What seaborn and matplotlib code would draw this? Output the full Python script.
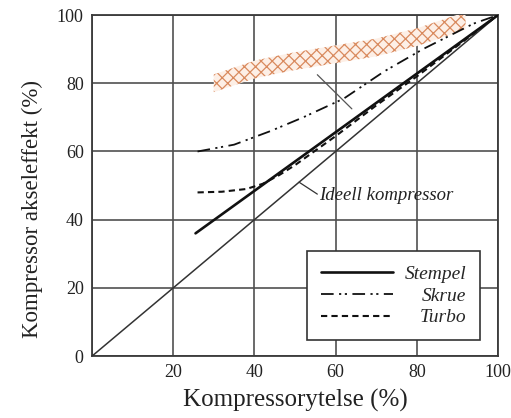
import numpy as np
import pandas as pd
import matplotlib
matplotlib.use("Agg")
import matplotlib.pyplot as plt
import seaborn as sns

# curve readings (x = Kompressorytelse %, y = akseleffekt %)
ideal_x = [0, 100]
ideal_y = [0, 100]

stempel_x = [25.5, 100]
stempel_y = [36, 100]

skrue_x = [26, 35, 44, 52, 62, 72, 81.5, 94, 100]
skrue_y = [60, 62, 66, 70, 75.5, 83.5, 90, 97.5, 100]

turbo_x = [26, 32, 38, 42, 46, 50, 60, 70, 80, 90, 100]
turbo_y = [48, 48.2, 49, 50.5, 53, 56, 64.5, 73.5, 82, 91, 100]

# hand-drawn orange band (centre line)
band_x = [30, 35, 40, 45, 50, 55, 60, 65, 70, 75, 80, 85, 90, 92]
band_y = [80, 82, 84, 85.3, 86.5, 87.5, 88.5, 89.5, 90.5, 92, 93.5, 95.5, 97.5, 98.5]
band_half = 2.6

ticks = [0, 20, 40, 60, 80, 100]

sns.set_theme(style="white")
plt.rcParams['font.family'] = ['Liberation Serif', 'DejaVu Serif']

fig = plt.figure(figsize=(5.11, 4.18), dpi=100)
fig.patch.set_facecolor('white')
ax = fig.add_axes([0.18, 0.148, 0.7946, 0.816])

# grid
ax.set_xlim(0, 100)
ax.set_ylim(0, 100)
ax.set_xticks(ticks)
ax.set_yticks(ticks)
ax.set_xticklabels(['', '20', '40', '60', '80', '100'])
ax.set_yticklabels(['0', '20', '40', '60', '80', '100'])
ax.grid(True, color='#505050', linewidth=1.2)
for s in ax.spines.values():
    s.set_color('#3a3a3a')
    s.set_linewidth(1.3)
ax.tick_params(length=0, labelsize=13, colors='#222222', pad=6)

# orange hatched band
bx = np.array(band_x)
by = np.array(band_y)
plt.rcParams['hatch.linewidth'] = 0.9
ax.fill_between(bx, by - band_half, by + band_half, facecolor='#fdefe6',
                edgecolor='#d98a5e', hatch='xxx', linewidth=0, zorder=3)

ideal_df = pd.DataFrame({'x': ideal_x, 'y': ideal_y})
sns.lineplot(data=ideal_df, x='x', y='y', ax=ax, color='#333333', linewidth=1.1, zorder=4)

sns.lineplot(x=stempel_x, y=stempel_y, ax=ax, color='#111111', linewidth=1.9,
             label='Stempel', zorder=5)
sns.lineplot(x=skrue_x, y=skrue_y, ax=ax, color='#111111', linewidth=1.3,
             linestyle=(0, (7, 3, 1.2, 2, 1.2, 3)), label='Skrue', zorder=5)
sns.lineplot(x=turbo_x, y=turbo_y, ax=ax, color='#111111', linewidth=1.5,
             linestyle=(0, (3, 2)), label='Turbo', zorder=5)

# leader lines
ax.plot([55.5, 64], [82.5, 72.5], color='#555555', linewidth=0.9, zorder=4)
ax.plot([51, 55.5], [51, 47.5], color='#333333', linewidth=0.9, zorder=4)
ax.text(56, 47, 'Ideell kompressor', fontsize=13.5, style='italic',
        va='center', ha='left', color='#222222', zorder=6)

leg = ax.legend(loc='lower right', bbox_to_anchor=(0.955, 0.047), borderaxespad=0,
                fancybox=False, edgecolor='#333333', framealpha=1,
                prop={'style': 'italic', 'size': 14}, handlelength=3.7,
                labelspacing=0.22, borderpad=0.7, handletextpad=0.6)
leg.get_frame().set_linewidth(1.2)

ax.set_xlabel('Kompressorytelse (%)', fontsize=18, color='#222222', labelpad=5)
ax.set_ylabel('Kompressor akseleffekt (%)', fontsize=16.5, color='#222222')
ax.yaxis.set_label_coords(-0.12, 0.43)

# right-align legend labels like the original
fig.canvas.draw()
renderer = fig.canvas.get_renderer()
widths = [t.get_window_extent(renderer).width for t in leg.get_texts()]
for t, w in zip(leg.get_texts(), widths):
    t.set_position((max(widths) - w, 0))

fig.savefig('out.png', dpi=100)
